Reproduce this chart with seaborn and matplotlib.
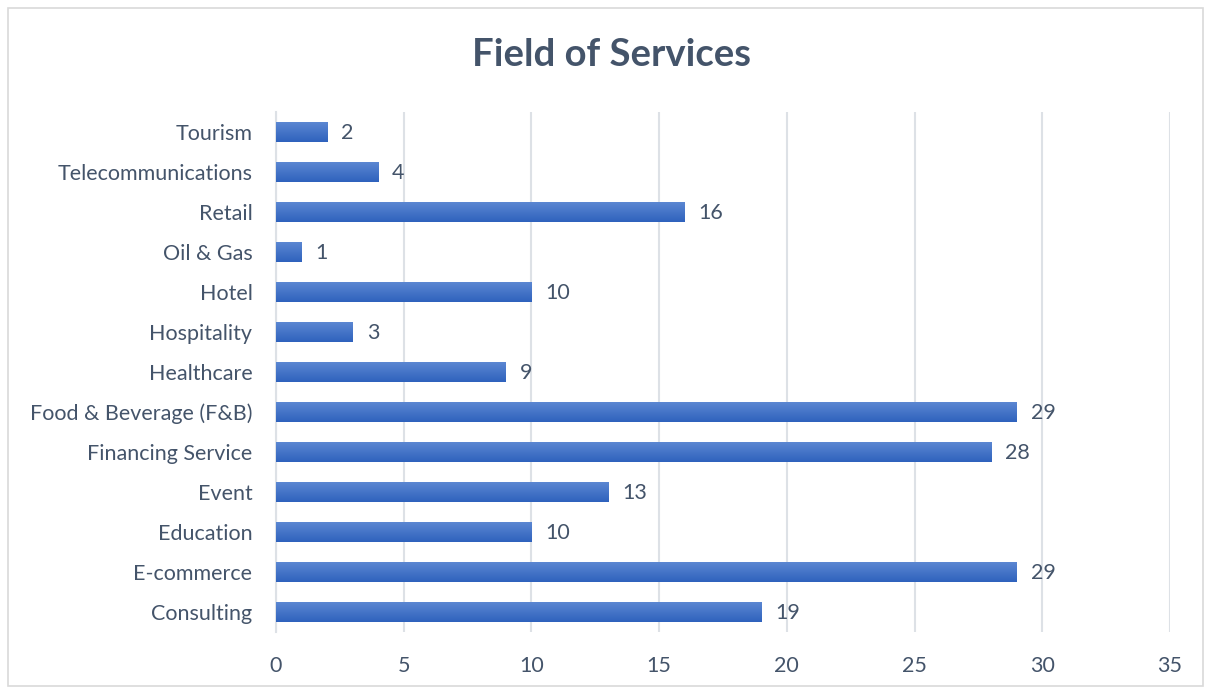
import matplotlib
matplotlib.use("Agg")
import matplotlib.pyplot as plt
import seaborn as sns
import numpy as np
import pandas as pd
from matplotlib.patches import Rectangle
from matplotlib.colors import LinearSegmentedColormap

categories = ["Tourism", "Telecommunications", "Retail", "Oil & Gas", "Hotel",
              "Hospitality", "Healthcare", "Food & Beverage (F&B)", "Financing Service",
              "Event", "Education", "E-commerce", "Consulting"]
values = [2, 4, 16, 1, 10, 3, 9, 29, 28, 13, 10, 29, 19]
x_ticks = [0, 5, 10, 15, 20, 25, 30, 35]
title = "Field of Services"

sns.set_style("white")
plt.rcParams['font.family'] = ['Lato', 'DejaVu Sans']

text_color = "#44546A"
grid_color = "#DDE1E6"

fig = plt.figure(figsize=(12.06, 6.91), dpi=100)
ax = fig.add_axes([276/1206, 1-632/691, (1170-276)/1206, (632-112)/691])

df = pd.DataFrame({"cat": categories, "val": values})
sns.barplot(data=df, x="val", y="cat", ax=ax, color="#4472C4", width=0.5,
            orient="h", saturation=1)

cmap = LinearSegmentedColormap.from_list("g", ["#5B87D2", "#2F62BD"])
grad = np.linspace(0, 1, 64).reshape(-1, 1)
for p in ax.patches:
    x0, y0 = p.get_x(), p.get_y()
    w, h = p.get_width(), p.get_height()
    im = ax.imshow(grad, cmap=cmap, aspect="auto",
                   extent=[x0, x0 + w, y0 + h, y0], zorder=3,
                   origin="upper")
    im.set_clip_path(p)
    p.set_edgecolor("none")

ax.set_xlim(0, 35)
ax.set_ylim(len(categories) - 0.5, -0.5)
ax.set_xticks(x_ticks)
ax.set_xticklabels([str(t) for t in x_ticks])
ax.xaxis.grid(True, color=grid_color, linewidth=1.5)
ax.set_axisbelow(True)
for s in ["top", "right", "bottom"]:
    ax.spines[s].set_visible(False)
ax.spines["left"].set_color(grid_color)
ax.spines["left"].set_linewidth(1.5)
ax.tick_params(axis="both", length=0, labelsize=15.5, colors=text_color)
ax.tick_params(axis="x", pad=17)
ax.tick_params(axis="y", pad=17)
ax.set_xlabel("")
ax.set_ylabel("")

for i, v in enumerate(values):
    ax.text(v + 0.55, i + 0.03, str(v), va="center", ha="left", fontsize=15.5,
            color=text_color)

fig.text(611/1206, 1-55/691, title, ha="center", va="center", fontsize=27.5,
         fontweight="bold", color=text_color)

fig.patches.append(Rectangle((8/1206, 1-686/691), 1195/1206, 678/691,
                             transform=fig.transFigure, fill=False,
                             edgecolor="#D9D9D9", linewidth=1.2))

fig.savefig("out.png", dpi=100)
